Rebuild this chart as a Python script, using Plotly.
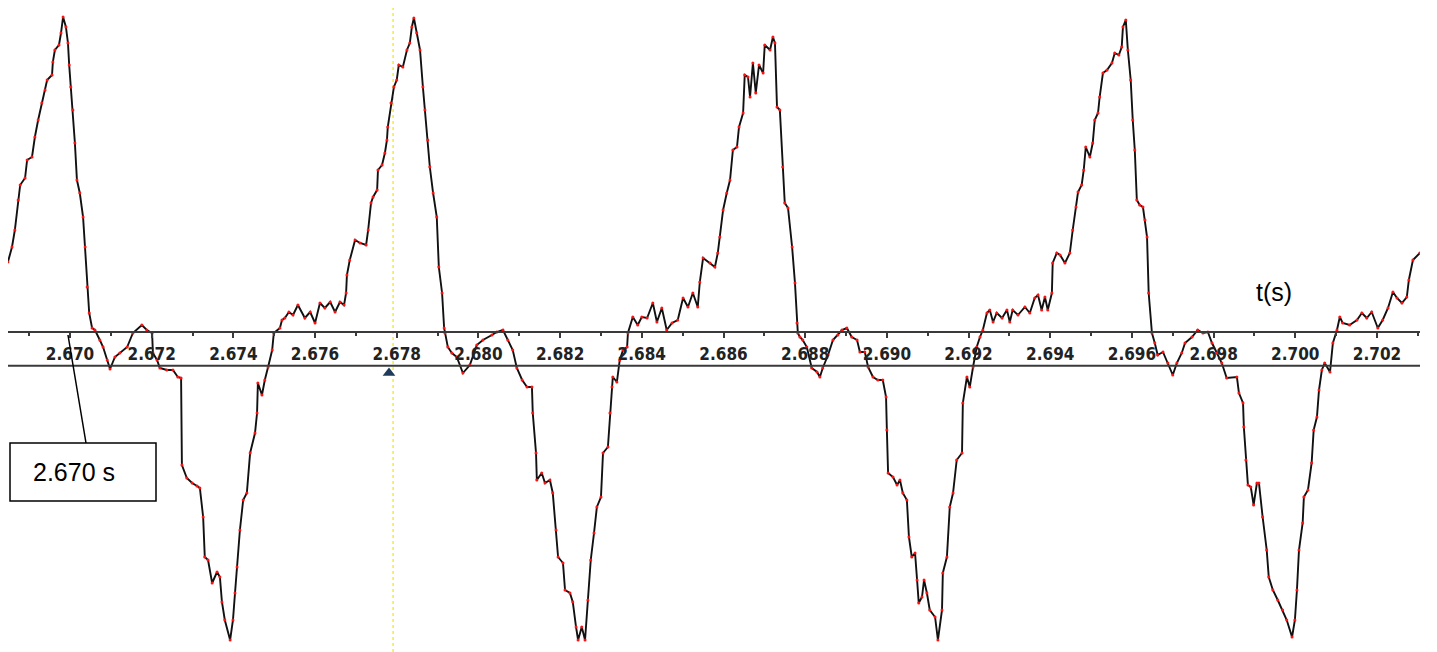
import plotly.graph_objects as go

# ---- data (time in ms, amplitude in arbitrary units) ----
time_ms = [
 2668.48,2668.58,2668.65,2668.73,2668.78,2668.90,2668.95,2669.07,2669.14,2669.22,2669.31,2669.39,2669.44,2669.56,2669.58,2669.63,2669.73,2669.78,2669.83,2669.90,
 2669.95,2669.98,2670.02,2670.07,2670.12,2670.17,2670.24,2670.32,2670.37,2670.42,2670.47,2670.54,2670.61,2670.73,2670.81,2670.91,2670.98,2671.10,2671.22,2671.40,
 2671.54,2671.76,2671.88,2672.01,2672.03,2672.13,2672.20,2672.37,2672.52,2672.64,2672.72,2672.74,2672.86,2672.99,2673.11,2673.18,2673.26,2673.30,2673.38,2673.48,
 2673.60,2673.67,2673.72,2673.79,2673.92,2673.99,2674.04,2674.09,2674.16,2674.24,2674.33,2674.41,2674.53,2674.58,2674.60,2674.70,2674.77,2674.85,2674.95,2674.99,
 2675.14,2675.19,2675.26,2675.36,2675.46,2675.58,2675.75,2675.88,2676.00,2676.12,2676.24,2676.37,2676.49,2676.61,2676.71,2676.76,2676.78,2676.85,2676.98,2677.10,
 2677.25,2677.30,2677.37,2677.42,2677.52,2677.54,2677.64,2677.71,2677.76,2677.78,2677.86,2677.93,2678.00,2678.05,2678.15,2678.25,2678.32,2678.37,2678.42,2678.49,
 2678.57,2678.64,2678.69,2678.76,2678.81,2678.89,2678.98,2679.03,2679.11,2679.16,2679.18,2679.25,2679.35,2679.47,2679.62,2679.79,2679.96,2680.11,2680.33,2680.45,
 2680.60,2680.72,2680.84,2680.94,2681.07,2681.19,2681.31,2681.33,2681.41,2681.43,2681.55,2681.63,2681.75,2681.82,2681.90,2681.95,2682.07,2682.12,2682.24,2682.31,
 2682.39,2682.44,2682.53,2682.61,2682.68,2682.75,2682.83,2682.90,2683.00,2683.05,2683.17,2683.22,2683.27,2683.29,2683.39,2683.46,2683.54,2683.64,2683.66,2683.78,
 2683.90,2684.00,2684.13,2684.27,2684.37,2684.49,2684.61,2684.74,2684.88,2685.01,2685.13,2685.25,2685.37,2685.42,2685.50,2685.67,2685.79,2685.86,2685.91,2685.99,
 2686.08,2686.16,2686.23,2686.33,2686.38,2686.48,2686.52,2686.60,2686.65,2686.72,2686.79,2686.87,2686.97,2687.01,2687.14,2687.21,2687.26,2687.31,2687.38,2687.45,
 2687.50,2687.58,2687.68,2687.75,2687.80,2687.82,2687.87,2687.94,2688.04,2688.16,2688.29,2688.36,2688.43,2688.56,2688.68,2688.80,2688.90,2689.02,2689.14,2689.27,
 2689.34,2689.46,2689.54,2689.66,2689.78,2689.90,2689.98,2690.00,2690.03,2690.15,2690.25,2690.32,2690.39,2690.49,2690.54,2690.61,2690.69,2690.74,2690.78,2690.86,
 2690.91,2690.98,2691.05,2691.18,2691.25,2691.35,2691.37,2691.47,2691.54,2691.62,2691.71,2691.84,2691.86,2691.96,2692.03,2692.11,2692.20,2692.28,2692.35,2692.45,
 2692.52,2692.60,2692.69,2692.82,2692.94,2693.01,2693.08,2693.21,2693.38,2693.50,2693.62,2693.70,2693.79,2693.87,2693.94,2694.04,2694.06,2694.16,2694.24,2694.36,
 2694.48,2694.55,2694.63,2694.68,2694.77,2694.82,2694.87,2694.97,2695.04,2695.09,2695.17,2695.21,2695.29,2695.39,2695.51,2695.58,2695.68,2695.75,2695.78,2695.85,
 2695.90,2695.97,2696.02,2696.07,2696.12,2696.19,2696.27,2696.32,2696.37,2696.41,2696.49,2696.56,2696.63,2696.76,2696.88,2697.00,2697.10,2697.22,2697.30,2697.47,
 2697.61,2697.74,2697.86,2697.96,2698.08,2698.20,2698.32,2698.57,2698.62,2698.72,2698.74,2698.79,2698.84,2698.91,2698.98,2699.06,2699.11,2699.20,2699.30,2699.35,
 2699.45,2699.57,2699.69,2699.79,2699.92,2699.99,2700.04,2700.09,2700.18,2700.21,2700.31,2700.40,2700.45,2700.53,2700.58,2700.65,2700.72,2700.85,2700.92,2701.02,
 2701.09,2701.16,2701.33,2701.51,2701.63,2701.75,2701.87,2702.02,2702.14,2702.27,2702.39,2702.49,2702.61,2702.73,2702.78,2702.88,2703.05,
]

amplitude = [
 86,101,118,148,163,170,188,191,211,228,245,258,268,273,286,298,303,315,331,321,
 305,283,261,238,205,168,155,131,101,61,35,20,18,8,1,-12,-21,-9,-5,1,
 15,23,18,15,-5,-12,-20,-22,-22,-29,-30,-117,-130,-135,-138,-140,-169,-209,-212,-235,
 -224,-229,-254,-272,-292,-272,-245,-219,-182,-152,-145,-105,-85,-65,-35,-47,-32,-19,-2,15,
 20,28,30,36,33,43,30,36,25,45,40,46,36,46,43,55,73,88,108,105,
 103,118,145,151,158,178,183,195,208,221,245,261,268,283,281,298,305,321,330,315,
 298,261,238,208,181,155,131,81,55,20,15,1,-5,-9,-25,-17,3,8,13,16,
 18,8,-2,-20,-32,-39,-39,-65,-105,-132,-125,-135,-132,-145,-182,-209,-215,-242,-245,-254,
 -279,-292,-279,-292,-252,-212,-185,-159,-149,-105,-99,-65,-39,-29,-34,-12,-2,1,15,31,
 23,31,30,45,26,40,18,25,28,50,41,55,41,66,90,85,81,95,111,138,
 155,168,198,201,221,235,273,271,251,285,255,283,275,303,298,311,305,241,238,181,
 145,140,101,65,25,15,11,8,1,-20,-24,-29,-20,-7,8,13,18,20,11,8,
 -4,-4,-19,-29,-32,-32,-49,-82,-125,-129,-137,-132,-145,-152,-189,-209,-205,-232,-255,-249,
 -232,-245,-262,-269,-292,-262,-225,-209,-159,-145,-112,-105,-55,-29,-39,-19,1,11,18,35,
 38,26,35,30,38,26,38,33,41,35,50,53,38,51,38,55,85,95,93,85,
 95,118,141,156,163,178,201,191,205,228,235,251,275,278,285,295,293,301,321,328,
 298,268,228,198,148,143,141,128,111,55,15,5,-7,-4,-15,-27,-15,-5,5,11,
 18,15,16,5,-5,-15,-30,-29,-45,-55,-79,-112,-137,-139,-157,-135,-135,-169,-202,-229,
 -242,-252,-262,-272,-289,-272,-242,-202,-175,-149,-142,-115,-82,-69,-42,-22,-15,-24,5,18,
 31,25,23,28,35,30,36,20,28,40,56,50,45,51,68,88,95,
]

time_s = [t / 1000.0 for t in time_ms]

x_range = [2.668482, 2.703053]
y_range = [-304, 340]
tick_start = 2.670
major_step = 0.002
minor_step = 0.001

cursor_time = 2.67791        # yellow dotted cursor
marker_time = 2.67781        # blue triangle marker
marker_level = -25

callout_text = "2.670 s"
axis_title = "t(s)"

axis_color = "#3a3a3a"

fig = go.Figure()

# cursor line
fig.add_trace(go.Scatter(
    x=[cursor_time, cursor_time], y=y_range, mode="lines",
    line=dict(color="#f2e600", width=1.2, dash="dot"),
    hoverinfo="skip", showlegend=False))

# waveform
fig.add_trace(go.Scatter(
    x=time_s, y=amplitude, mode="lines+markers",
    line=dict(color="#111111", width=1.9),
    marker=dict(color="#ff1010", size=3),
    showlegend=False))

# triangle marker
fig.add_trace(go.Scatter(
    x=[marker_time], y=[marker_level], mode="markers",
    marker=dict(symbol="triangle-up", size=11, color="#1f3b5c"),
    showlegend=False))

# page body has an 8px margin, so the figure starts at page (8, 8)
OFF = 8
W, H = 1437 - OFF, 652 - OFF
L, R = 0, 17
PW = W - L - R

def px(xpage):
    return (xpage - OFF - L) / PW

def py(ypage):
    return (H - (ypage - OFF)) / H

fig.update_layout(
    width=W, height=H,
    margin=dict(l=L, r=R, t=0, b=0),
    paper_bgcolor="white", plot_bgcolor="white",
    showlegend=False,
    xaxis=dict(
        range=x_range, anchor="free", position=py(331.7),
        showline=True, linecolor=axis_color, linewidth=2,
        showgrid=False, zeroline=False,
        ticks="outside", ticklen=5, tickwidth=1.5, tickcolor=axis_color,
        ticklabelstandoff=2,
        tick0=tick_start, dtick=major_step, tickformat=".3f",
        tickfont=dict(family="Liberation Sans Narrow, DejaVu Sans Condensed, Arial Narrow, sans-serif",
                      size=17, color="#222222", weight="bold"),
        minor=dict(dtick=minor_step, tick0=tick_start, ticks="outside", ticklen=3,
                   tickwidth=1.5, tickcolor=axis_color, showgrid=False),
    ),
    yaxis=dict(range=y_range, visible=False),
    shapes=[
        dict(type="line", xref="paper", yref="paper", x0=0, x1=1, y0=py(365.7), y1=py(365.7),
             line=dict(color=axis_color, width=2)),
        dict(type="line", xref="paper", yref="paper", x0=px(68), y0=py(335), x1=px(86), y1=py(443),
             line=dict(color="black", width=1.5)),
        dict(type="rect", xref="paper", yref="paper", x0=px(10), x1=px(156), y0=py(501), y1=py(443),
             line=dict(color="black", width=1.5), fillcolor="white"),
    ],
    annotations=[
        dict(text=callout_text, xref="paper", yref="paper", x=px(31), y=py(472),
             xanchor="left", yanchor="middle", showarrow=False,
             font=dict(family="Liberation Sans, Arial, sans-serif", size=25, color="black")),
        dict(text=axis_title, xref="paper", yref="paper", x=px(1274), y=py(291.5),
             xanchor="center", yanchor="middle", showarrow=False,
             font=dict(family="Liberation Sans, Arial, sans-serif", size=25, color="black")),
    ],
)

fig.write_html("out.html")
